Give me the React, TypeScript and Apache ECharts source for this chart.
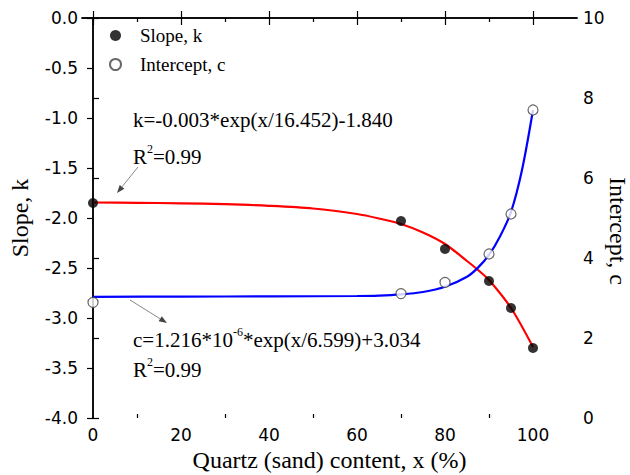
import React, { useEffect, useRef } from "react";
import * as echarts from "echarts";

// Measured points
const quartzX = [0, 70, 80, 90, 95, 100];
const slopeK = [-1.85, -2.03, -2.31, -2.63, -2.9, -3.3];
const interceptC = [2.89, 3.11, 3.39, 4.1, 5.1, 7.7];

// Fitted curves
const kFitX = [0, 10, 20, 30, 40, 50, 60, 65, 70, 75, 80, 85, 87.5, 90, 95, 100];
const kFitY = [-1.845, -1.848, -1.853, -1.862, -1.878, -1.905, -1.96, -2.005, -2.06, -2.145, -2.26, -2.43, -2.52, -2.62, -2.9, -3.29];
const cFitX = [0, 20, 40, 60, 65, 70, 75, 80, 85, 87.5, 90, 92.5, 95, 97.5, 100];
const cFitY = [3.03, 3.035, 3.04, 3.05, 3.06, 3.09, 3.15, 3.28, 3.53, 3.76, 4.08, 4.54, 5.15, 6.2, 7.7];

// Tick labels
const xMajorTicks = [0, 20, 40, 60, 80, 100];
const xMinorTicks = [10, 30, 50, 70, 90];

const SERIF = '"Liberation Serif", "Times New Roman", serif';
const SANS = '"DejaVu Sans", Arial, sans-serif';

export default function App() {
  const ref = useRef<HTMLDivElement>(null);
  useEffect(() => {
    if (!ref.current) return;
    document.body.style.margin = "0";
    const chart = echarts.init(ref.current, null, { renderer: "svg" });
    const grid = { left: 82, right: 53, top: 18, bottom: 57, outerBoundsMode: "none", containLabel: false };
    const baseX = {
      type: "value",
      min: -2.5,
      max: 110,
      splitLine: { show: false },
    };
    const axisLine = { show: true, lineStyle: { color: "#000", width: 1.5 } };
    const rich = {
      n: { fontFamily: SERIF, fontSize: 21, lineHeight: 24, verticalAlign: "bottom" },
      sup: { fontFamily: SERIF, fontSize: 12, lineHeight: 14, verticalAlign: "top" },
    };
    const option: any = {
      animation: false,
      backgroundColor: "#fff",
      grid,
      legend: {
        orient: "vertical",
        left: 104,
        top: 21,
        itemGap: 10,
        itemWidth: 11,
        itemHeight: 11,
        icon: "circle",
        data: ["Slope, k", "Intercept, c"],
        textStyle: { fontFamily: SERIF, fontSize: 19, color: "#000", padding: [0, 0, 0, 14] },
      },
      xAxis: [
        {
          ...baseX,
          position: "bottom",
          name: "Quartz (sand) content, x (%)",
          nameLocation: "middle",
          nameGap: 30,
          nameTextStyle: { fontFamily: SERIF, fontSize: 24, color: "#000" },
          axisLine,
          axisTick: { show: true, inside: true, length: 7, customValues: xMajorTicks, lineStyle: { color: "#000", width: 1.2 } },
          axisLabel: { customValues: xMajorTicks, fontFamily: SANS, fontSize: 17, color: "#000", margin: 8 },
        },
        {
          ...baseX,
          position: "bottom",
          axisLine: { show: false },
          axisTick: { show: true, inside: true, length: 4, customValues: xMinorTicks, lineStyle: { color: "#000", width: 1.2 } },
          axisLabel: { show: false },
        },
        {
          ...baseX,
          position: "top",
          axisLine,
          axisTick: { show: true, inside: true, length: 7, customValues: xMajorTicks, lineStyle: { color: "#000", width: 1.2 } },
          axisLabel: { show: false },
        },
        {
          ...baseX,
          position: "top",
          axisLine: { show: false },
          axisTick: { show: true, inside: true, length: 4, customValues: xMinorTicks, lineStyle: { color: "#000", width: 1.2 } },
          axisLabel: { show: false },
        },
      ],
      yAxis: [
        {
          type: "value",
          position: "left",
          min: -4,
          max: 0,
          interval: 0.5,
          name: "Slope, k",
          nameLocation: "middle",
          nameGap: 50,
          nameTextStyle: { fontFamily: SERIF, fontSize: 24, color: "#000" },
          splitLine: { show: false },
          axisLine,
          axisTick: { show: true, inside: false, length: 6, lineStyle: { color: "#000", width: 1.2 } },
          axisLabel: { fontFamily: SANS, fontSize: 17, color: "#000", margin: 4, formatter: (v: number) => v.toFixed(1) },
        },
        {
          type: "value",
          position: "right",
          min: 0,
          max: 10,
          interval: 2,
          splitLine: { show: false },
          axisLine,
          axisTick: { show: true, inside: false, length: 6, lineStyle: { color: "#000", width: 1.2 } },
          axisLabel: { fontFamily: SANS, fontSize: 17, color: "#000", margin: 6 },
        },
      ],
      series: [
        {
          name: "k fit",
          type: "line",
          xAxisIndex: 0,
          yAxisIndex: 0,
          data: kFitX.map((x, i) => [x, kFitY[i]]),
          smooth: 0.3,
          showSymbol: false,
          lineStyle: { color: "#ff0000", width: 2.2 },
          z: 2,
        },
        {
          name: "c fit",
          type: "line",
          xAxisIndex: 0,
          yAxisIndex: 1,
          data: cFitX.map((x, i) => [x, cFitY[i]]),
          smooth: 0.3,
          showSymbol: false,
          lineStyle: { color: "#0000ff", width: 2.2 },
          z: 2,
        },
        {
          name: "Slope, k",
          type: "scatter",
          xAxisIndex: 0,
          yAxisIndex: 0,
          symbol: "circle",
          symbolSize: 10,
          data: quartzX.map((x, i) => [x, slopeK[i]]),
          itemStyle: { color: "#000" },
          z: 3,
        },
        {
          name: "Intercept, c",
          type: "scatter",
          xAxisIndex: 0,
          yAxisIndex: 1,
          symbol: "circle",
          symbolSize: 10,
          data: quartzX.map((x, i) => [x, interceptC[i]]),
          itemStyle: { color: "#fff", borderColor: "#444", borderWidth: 1.2 },
          z: 3,
        },
      ],
      graphic: [
        {
          type: "text",
          x: 618,
          y: 231,
          rotation: -Math.PI / 2,
          style: { text: "Intercept, c", font: `24px ${SERIF}`, fill: "#000", align: "center", verticalAlign: "middle" },
        },
        {
          type: "text",
          x: 133,
          y: 120,
          style: { text: "k=-0.003*exp(x/16.452)-1.840", font: `21px ${SERIF}`, fill: "#000", verticalAlign: "middle" },
        },
        {
          type: "text",
          x: 133,
          y: 155,
          style: { text: "{n|R}{sup|2}{n|=0.99}", verticalAlign: "middle", fill: "#000", rich },
        },
        {
          type: "text",
          x: 133,
          y: 338,
          style: { text: "{n|c=1.216*10}{sup|-6}{n|*exp(x/6.599)+3.034}", verticalAlign: "middle", fill: "#000", rich },
        },
        {
          type: "text",
          x: 133,
          y: 368,
          style: { text: "{n|R}{sup|2}{n|=0.99}", verticalAlign: "middle", fill: "#000", rich },
        },
        {
          type: "line",
          shape: { x1: 138, y1: 167, x2: 122, y2: 186.8 },
          style: { stroke: "#888", lineWidth: 1 },
        },
        {
          type: "polygon",
          shape: { points: [[117, 193], [124.4, 188.7], [119.7, 184.9]] },
          style: { fill: "#444" },
        },
        {
          type: "line",
          shape: { x1: 130, y1: 300, x2: 160.2, y2: 318.8 },
          style: { stroke: "#888", lineWidth: 1 },
        },
        {
          type: "polygon",
          shape: { points: [[167, 323], [158.6, 321.3], [161.8, 316.2]] },
          style: { fill: "#444" },
        },
      ],
    };
    chart.setOption(option);
    return () => chart.dispose();
  }, []);
  return <div ref={ref} style={{ width: 630, height: 475 }} />;
}
